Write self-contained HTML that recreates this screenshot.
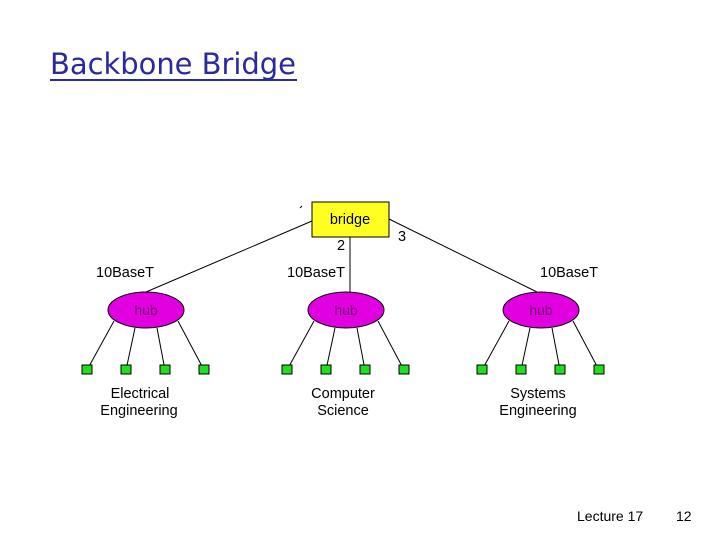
<!DOCTYPE html>
<html><head><style>
html,body{margin:0;padding:0;background:#fff;width:720px;height:540px;overflow:hidden}
svg{display:block}
</style></head><body>
<svg width="720" height="540" xmlns="http://www.w3.org/2000/svg">
<text x="50" y="74" font-family="'Comic Sans MS','DejaVu Sans',sans-serif" font-size="29" fill="#2a2aa0" textLength="246">Backbone Bridge</text>
<rect x="50" y="79" width="247" height="2" fill="#2a2aa0"/>
<g stroke="#000" stroke-width="1" fill="none">
<line x1="312" y1="221" x2="146" y2="292"/>
<line x1="389" y1="219" x2="537" y2="292"/>
<line x1="350" y1="237" x2="350" y2="292"/>
<line x1="300" y1="208" x2="302" y2="206"/>
</g>
<rect x="312" y="202" width="77" height="35" fill="#ffff22" stroke="#000"/>
<g font-family="'Liberation Sans',sans-serif" font-size="14.5" fill="#000">
<text x="350" y="224" text-anchor="middle">bridge</text>
<text x="337" y="250">2</text>
<text x="398" y="241">3</text>
<text x="96" y="277">10BaseT</text>
<text x="287" y="277">10BaseT</text>
<text x="540" y="277">10BaseT</text>
<text x="140" y="398" text-anchor="middle">Electrical</text>
<text x="139" y="415" text-anchor="middle">Engineering</text>
<text x="343" y="398" text-anchor="middle">Computer</text>
<text x="343" y="415" text-anchor="middle">Science</text>
<text x="538" y="398" text-anchor="middle">Systems</text>
<text x="538" y="415" text-anchor="middle">Engineering</text>
</g>
<g stroke="#000" stroke-width="1">
<line x1="114" y1="321" x2="87" y2="370"/><line x1="135" y1="328" x2="126" y2="370"/><line x1="157" y1="328" x2="165" y2="370"/><line x1="178" y1="321" x2="204" y2="370"/>
<line x1="314" y1="321" x2="287" y2="370"/><line x1="335" y1="328" x2="326" y2="370"/><line x1="357" y1="328" x2="365" y2="370"/><line x1="378" y1="321" x2="404" y2="370"/>
<line x1="509" y1="321" x2="482" y2="370"/><line x1="530" y1="328" x2="521" y2="370"/><line x1="552" y1="328" x2="560" y2="370"/><line x1="573" y1="321" x2="599" y2="370"/>
</g>
<g fill="#e000e0" stroke="#000">
<ellipse cx="146" cy="310" rx="38" ry="18"/>
<ellipse cx="346" cy="310" rx="38" ry="18"/>
<ellipse cx="541" cy="310" rx="38" ry="18"/>
</g>
<g font-family="'Liberation Sans',sans-serif" font-size="14" fill="#700070" text-anchor="middle">
<text x="146" y="315">hub</text><text x="346" y="315">hub</text><text x="541" y="315">hub</text>
</g>
<g fill="#22dd22" stroke="#000">
<rect x="82" y="365" width="10" height="9"/><rect x="121" y="365" width="10" height="9"/><rect x="160" y="365" width="10" height="9"/><rect x="199" y="365" width="10" height="9"/>
<rect x="282" y="365" width="10" height="9"/><rect x="321" y="365" width="10" height="9"/><rect x="360" y="365" width="10" height="9"/><rect x="399" y="365" width="10" height="9"/>
<rect x="477" y="365" width="10" height="9"/><rect x="516" y="365" width="10" height="9"/><rect x="555" y="365" width="10" height="9"/><rect x="594" y="365" width="10" height="9"/>
</g>
<g font-family="'Liberation Sans',sans-serif" font-size="14" fill="#000">
<text x="577" y="521">Lecture 17</text>
<text x="676" y="521">12</text>
</g>
</svg>
</body></html>
